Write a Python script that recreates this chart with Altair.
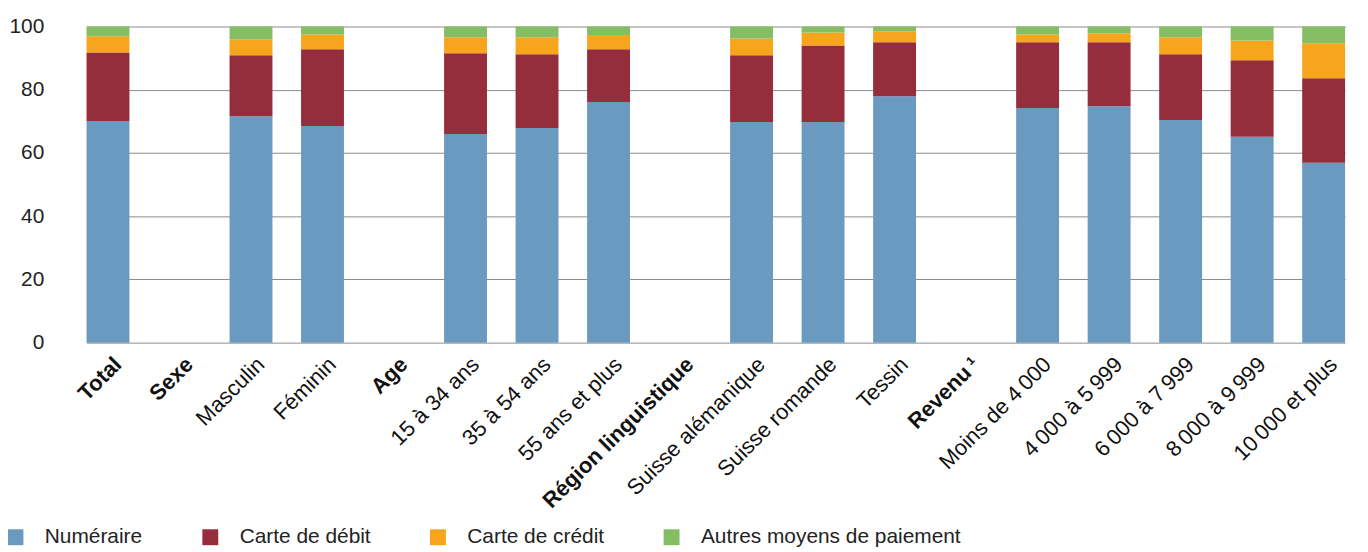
import altair as alt
import pandas as pd

NS = "\u202f"  # narrow space used in numbers
categories = ["Total", "Sexe", "Masculin", "Féminin", "Age", "15 à 34 ans", "35 à 54 ans",
              "55 ans et plus", "Région linguistique", "Suisse alémanique", "Suisse romande",
              "Tessin", "Revenu\u2009¹", f"Moins de 4{NS}000", f"4{NS}000 à 5{NS}999",
              f"6{NS}000 à 7{NS}999", f"8{NS}000 à 9{NS}999", f"10{NS}000 et plus"]
headers = ["Total", "Sexe", "Age", "Région linguistique", "Revenu\u2009¹"]

bar_categories = ["Total", "Masculin", "Féminin", "15 à 34 ans", "35 à 54 ans", "55 ans et plus",
                  "Suisse alémanique", "Suisse romande", "Tessin", f"Moins de 4{NS}000",
                  f"4{NS}000 à 5{NS}999", f"6{NS}000 à 7{NS}999", f"8{NS}000 à 9{NS}999",
                  f"10{NS}000 et plus"]

series = ["Numéraire", "Carte de débit", "Carte de crédit", "Autres moyens de paiement"]
numeraire = [70.1, 71.6, 68.5, 66.0, 67.9, 76.1, 69.8, 69.8, 77.9, 74.2, 74.8, 70.4, 65.1, 56.9]
debit     = [21.7, 19.3, 24.3, 25.5, 23.3, 16.7, 21.1, 24.2, 17.1, 20.8, 20.2, 20.8, 24.2, 26.7]
credit    = [5.1, 5.0, 4.7, 5.1, 5.4, 4.5, 5.3, 4.1, 3.5, 2.5, 2.9, 5.4, 6.3, 11.1]
autres    = [3.1, 4.1, 2.5, 3.4, 3.4, 2.7, 3.8, 1.9, 1.5, 2.5, 2.1, 3.4, 4.4, 5.3]
colors = ["#6b9ac0", "#962d3c", "#f8a51e", "#84bd63"]

rows = []
for si, (name, vals) in enumerate(zip(series, [numeraire, debit, credit, autres])):
    for cat, v in zip(bar_categories, vals):
        rows.append({"cat": cat, "serie": name, "val": v, "idx": si})
df = pd.DataFrame(rows)

FONT = "Liberation Sans"
hdr_expr = "indexof(" + str(headers) + ", datum.value) >= 0 ? 'bold' : 'normal'"

chart = alt.Chart(df).mark_bar().encode(
    x=alt.X("cat:N", title=None,
            scale=alt.Scale(domain=categories, paddingInner=0.4, paddingOuter=0,
                            range=[34, 1300], round=False),
            axis=alt.Axis(labelAngle=-45, labelAlign="right", labelBaseline="middle",
                          labelFontSize=22, labelFont=FONT, labelColor="#111111",
                          labelOffset=10, labelPadding=18, ticks=False, domain=False,
                          grid=False, labelOverlap=False, labelLimit=0,
                          labelFontWeight=alt.expr(hdr_expr))),
    y=alt.Y("val:Q", title=None, stack="zero",
            scale=alt.Scale(domain=[0, 100], nice=False),
            axis=alt.Axis(values=[0, 20, 40, 60, 80, 100], ticks=False, domain=False,
                          labelFontSize=21, labelFont=FONT, labelColor="#222222",
                          labelPadding=9, gridColor="#8c8c8c", gridWidth=1)),
    color=alt.Color("serie:N", scale=alt.Scale(domain=series, range=colors),
                    legend=alt.Legend(title=None, orient="none", legendX=-48, legendY=503,
                                      direction="horizontal", columns=4, symbolType="square",
                                      symbolSize=256, symbolStrokeWidth=0, labelFontSize=21,
                                      labelFont=FONT, labelColor="#222222", labelOffset=19,
                                      labelLimit=0, columnPadding=57, padding=0,
                                      symbolOpacity=1)),
    order=alt.Order("idx:Q", sort="ascending"),
).properties(
    width=1315, height=318,
    autosize=alt.AutoSizeParams(type="none"),
    padding={"left": 45, "top": 17, "right": 0, "bottom": 209},
).configure_view(stroke=None)

chart.save("out.html", embed_options={"renderer": "svg", "actions": False})
